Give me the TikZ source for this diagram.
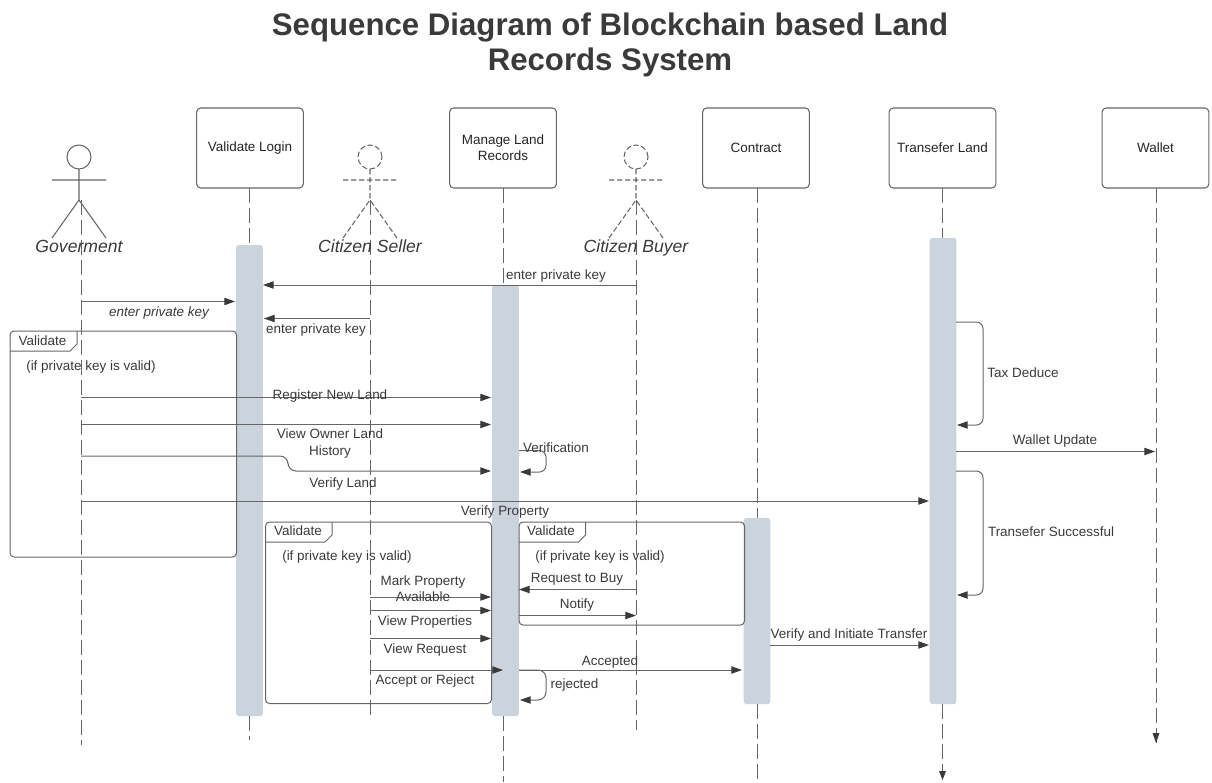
\documentclass[tikz,border=0pt]{standalone}
\usepackage{fontspec}
\setmainfont{Liberation Sans}
\usetikzlibrary{arrows.meta}
\definecolor{ln}{HTML}{666666}
\definecolor{barc}{HTML}{CBD3DC}
\definecolor{tx}{HTML}{3A3A3A}
\tikzset{
 x=0.75pt,y=-0.75pt,
 every node/.style={inner sep=0pt,outer sep=0pt,align=center,text=tx,font=\fontsize{10.1}{12.2}\selectfont},
 lab/.style={yshift=-1.1pt},
 headbox/.style={draw=ln,line width=0.8pt,rounded corners=3pt,fill=white,minimum width=80pt,minimum height=60pt,text=black!85},
 barnode/.style={fill=barc,rounded corners=2pt,minimum width=20pt},
 life/.style={draw=ln,line width=0.7pt,dash pattern=on 11.5pt off 3.5pt},
 msg/.style={draw=ln,line width=0.75pt,-{Triangle[length=8pt,width=5.5pt,color=tx]}},
 plainline/.style={draw=ln,line width=0.75pt},
 framebox/.style={draw=ln,line width=0.75pt,rounded corners=3pt},
 actorline/.style={draw=ln,line width=0.8pt},
 actordash/.style={draw=ln,line width=0.8pt,dash pattern=on 4pt off 2pt},
 actorname/.style={font=\fontsize{13.2}{15}\selectfont\itshape,text height=9.5pt,text depth=3pt},
}
\begin{document}
\begin{tikzpicture}
\useasboundingbox (0,0) rectangle (1212,782);
\node[font=\fontsize{23.4}{26}\selectfont\bfseries] (t1) at (610,28) {Sequence Diagram of Blockchain based Land};
\node[font=\fontsize{23.4}{26}\selectfont\bfseries] (t2) at (610,62) {Records System};
% heads
\node[headbox] (vl) at (250,148) {Validate Login};
\node[headbox] (ml) at (503,148) {Manage Land\\Records};
\node[headbox] (ct) at (756,148) {\raisebox{0.8pt}{Contract}};
\node[headbox] (tl) at (942.5,148) {\raisebox{0.8pt}{Transefer Land}};
\node[headbox] (wl) at (1155.5,148) {\raisebox{0.8pt}{Wallet}};
% activation bars
\node[barnode,minimum height=353.25pt] (bvl) at (249.5,480.5) {};
\node[barnode,minimum height=323.25pt] (bml) at (505.5,500.5) {};
\node[barnode,minimum height=139.5pt] (bct) at (757,611) {};
\node[barnode,minimum height=349.5pt] (btl) at (943,471) {};
% lifelines
\coordinate (vlend) at (249.5,740);
\coordinate (mlend) at (503,782);
\coordinate (ctend) at (757,782);
\coordinate (tlend) at (942.5,780);
\coordinate (wlend) at (1156,743);
\coordinate (vlt) at (vl.south -| vlend);
\coordinate (mlt) at (ml.south -| mlend);
\coordinate (ctt) at (ct.south -| ctend);
\coordinate (tlt) at (tl.south -| tlend);
\coordinate (wlt) at (wl.south -| wlend);
\draw[life] (vlt) -- (vlt |- bvl.north);
\draw[life] (vlend |- bvl.south) -- (vlend);
\draw[life] (mlt) -- (mlt |- bml.north);
\draw[life] (mlend |- bml.south) -- (mlend);
\draw[life] (ctt) -- (ctt |- bct.north);
\draw[life] (ctend |- bct.south) -- (ctend);
\draw[life] (tlt) -- (tlt |- btl.north);
\draw[life] (tlend |- btl.south) -- (tlend);
\draw[life] (wlt) -- (wlend);
\fill[tx] (tlend) -- ++(-3.5,-9) -- ++(7,0) -- cycle;
\fill[tx] (wlend) -- ++(-3.5,-10) -- ++(7,0) -- cycle;
% actors
\node[circle,draw=ln,line width=0.8pt,minimum size=18pt] (gh) at (79,157) {};
\coordinate (gh1) at (79,200); \coordinate (gal) at (52,180); \coordinate (gar) at (106,180);
\coordinate (gll) at (52,238); \coordinate (glr) at (106,238);
\draw[actorline] (gh.south) -- (gh1) (gal) -- (gar) (gll) -- (gh1) -- (glr);
\node[circle,actordash,minimum size=18pt] (sh) at (370,157) {};
\coordinate (sh1) at (370,200); \coordinate (sal) at (343,180); \coordinate (sar) at (397,180);
\coordinate (sll) at (343,238); \coordinate (slr) at (397,238);
\draw[actordash] (sh.south) -- (sh1) (sal) -- (sar) (sll) -- (sh1) -- (slr);
\node[circle,actordash,minimum size=18pt] (bh) at (636,157) {};
\coordinate (bh1) at (636,200); \coordinate (bal) at (609,180); \coordinate (bar) at (663,180);
\coordinate (bll) at (609,238); \coordinate (blr) at (663,238);
\draw[actordash] (bh.south) -- (bh1) (bal) -- (bar) (bll) -- (bh1) -- (blr);
% actor lifelines
\coordinate (g0) at (81,200); \coordinate (gend) at (81,745);
\coordinate (s0) at (370,200); \coordinate (send) at (370,717);
\coordinate (b0) at (636.5,200); \coordinate (bend) at (636.5,730);
\draw[life] (g0) -- (gend);
\draw[life] (s0) -- (send);
\draw[life] (b0) -- (bend);
\node[actorname] (gn) at (79,248.5) {Goverment};
\node[actorname] (sn) at (370,248.5) {Citizen Seller};
\node[actorname] (bn) at (636,248.5) {Citizen Buyer};
% frames
\coordinate (f1a) at (10,331); \coordinate (f1b) at (236.5,557);
\draw[framebox] (f1a) rectangle (f1b);
\coordinate (f1t1) at (77,331); \coordinate (f1t2) at (77,344); \coordinate (f1t3) at (70,351); \coordinate (f1t4) at (10,351);
\draw[plainline] (f1t1) -- (f1t2) -- (f1t3) -- (f1t4);
\node[lab] (f1l) at (42.5,339) {Validate};
\node[lab] (f1c) at (91,365.5) {(if private key is valid)};
\coordinate (f2a) at (265.5,522); \coordinate (f2b) at (491.5,703.5);
\draw[framebox] (f2a) rectangle (f2b);
\coordinate (f2t1) at (332,522); \coordinate (f2t2) at (332,535); \coordinate (f2t3) at (325,542); \coordinate (f2t4) at (265.5,542);
\draw[plainline] (f2t1) -- (f2t2) -- (f2t3) -- (f2t4);
\node[lab] (f2l) at (298,529) {Validate};
\node[lab] (f2c) at (347,555.5) {(if private key is valid)};
\coordinate (f3a) at (519,522); \coordinate (f3b) at (744.5,625);
\draw[framebox] (f3a) rectangle (f3b);
\coordinate (f3t1) at (585.5,522); \coordinate (f3t2) at (585.5,535); \coordinate (f3t3) at (578.5,542); \coordinate (f3t4) at (519,542);
\draw[plainline] (f3t1) -- (f3t2) -- (f3t3) -- (f3t4);
\node[lab] (f3l) at (551,529) {Validate};
\node[lab] (f3c) at (600,555.5) {(if private key is valid)};
% messages
\coordinate (m1a) at (637,285); \coordinate (m1b) at (263,285);
\draw[msg] (m1a) -- (m1b);
\node[lab] (m1l) at (556,274.5) {enter private key};
\coordinate (m2a) at (81,301.5); \coordinate (m2b) at (235,301.5);
\draw[msg] (m2a) -- (m2b);
\node[lab,font=\fontsize{10.1}{12.2}\selectfont\itshape] (m2l) at (159,311.5) {enter private key};
\coordinate (m3a) at (370,318.5); \coordinate (m3b) at (264,318.5);
\draw[msg] (m3a) -- (m3b);
\node[lab] (m3l) at (316,328.5) {enter private key};
\coordinate (m4a) at (81,397.5); \coordinate (m4b) at (491,397.5);
\draw[msg] (m4a) -- (m4b);
\node[lab] (m4l) at (330,394.5) {Register New Land};
\coordinate (m5a) at (81,424.5); \coordinate (m5b) at (491,424.5);
\draw[msg] (m5a) -- (m5b);
\node[lab] (m5l) at (330,442) {View Owner Land\\History};
\coordinate (m6a) at (81,456); \coordinate (m6c1) at (288,456); \coordinate (m6c2) at (288,471); \coordinate (m6b) at (491,471);
\draw[msg,rounded corners=6pt] (m6a) -- (m6c1) -- (m6c2) -- (m6b);
\node[lab] (m6l) at (343,482.5) {Verify Land};
\coordinate (m7a) at (81,501); \coordinate (m7b) at (929,501);
\draw[msg] (m7a) -- (m7b);
\node[lab] (m7l) at (505,510.5) {Verify Property};
% verification
\coordinate (v1) at (519,450.5); \coordinate (v2) at (546,450.5); \coordinate (v3) at (546,472); \coordinate (v4) at (520,472);
\draw[msg,rounded corners=5pt] (v1) -- (v2) -- (v3) -- (v4);
\node[lab] (vlb) at (556,446) {Verification};
% seller messages
\coordinate (s1a) at (370,597); \coordinate (s1b) at (491,597);
\draw[msg] (s1a) -- (s1b);
\node[lab] (s1l) at (423,587) {Mark Property\\Available};
\coordinate (s2a) at (370,610.5); \coordinate (s2b) at (491,610.5);
\draw[msg] (s2a) -- (s2b);
\node[lab] (s2l) at (425,620.5) {View Properties};
\coordinate (s3a) at (370,638.5); \coordinate (s3b) at (491,638.5);
\draw[msg] (s3a) -- (s3b);
\node[lab] (s3l) at (425,648.5) {View Request};
\coordinate (s4a) at (370,670); \coordinate (s4b) at (503,670);
\draw[msg] (s4a) -- (s4b);
\node[lab] (s4l) at (425,679.5) {Accept or Reject};
\coordinate (a1) at (519,670); \coordinate (a2) at (742,670);
\draw[msg] (a1) -- (a2);
\node[lab] (a1l) at (610,660.5) {Accepted};
\coordinate (r1) at (519,670); \coordinate (r2) at (546,670); \coordinate (r3) at (546,700); \coordinate (r4) at (520,700);
\draw[msg,rounded corners=6pt] (r1) -- (r2) -- (r3) -- (r4);
\node[lab] (r1l) at (574.5,683.5) {rejected};
\coordinate (q1) at (636.5,589.5); \coordinate (q2) at (519,589.5);
\draw[msg] (q1) -- (q2);
\node[lab] (q1l) at (577,577.5) {Request to Buy};
\coordinate (n1) at (519,615.5); \coordinate (n2) at (636,615.5);
\draw[msg] (n1) -- (n2);
\node[lab] (n1l) at (577,603.5) {Notify};
\coordinate (i1) at (770,645); \coordinate (i2) at (929,645);
\draw[msg] (i1) -- (i2);
\node[lab] (i1l) at (849,633.5) {Verify and Initiate Transfer};
% transfer side
\coordinate (x1) at (956,322); \coordinate (x2) at (983,322); \coordinate (x3) at (983,425); \coordinate (x4) at (957,425);
\draw[msg,rounded corners=5pt] (x1) -- (x2) -- (x3) -- (x4);
\node[lab] (x1l) at (1023,371) {Tax Deduce};
\coordinate (w1) at (956,451.5); \coordinate (w2) at (1155,451.5);
\draw[msg] (w1) -- (w2);
\node[lab] (w1l) at (1055,439.5) {Wallet Update};
\coordinate (y1) at (956,471); \coordinate (y2) at (983,471); \coordinate (y3) at (983,595); \coordinate (y4) at (957,595);
\draw[msg,rounded corners=5pt] (y1) -- (y2) -- (y3) -- (y4);
\node[lab] (y1l) at (1051,530) {Transefer Successful};
\end{tikzpicture}
\end{document}
